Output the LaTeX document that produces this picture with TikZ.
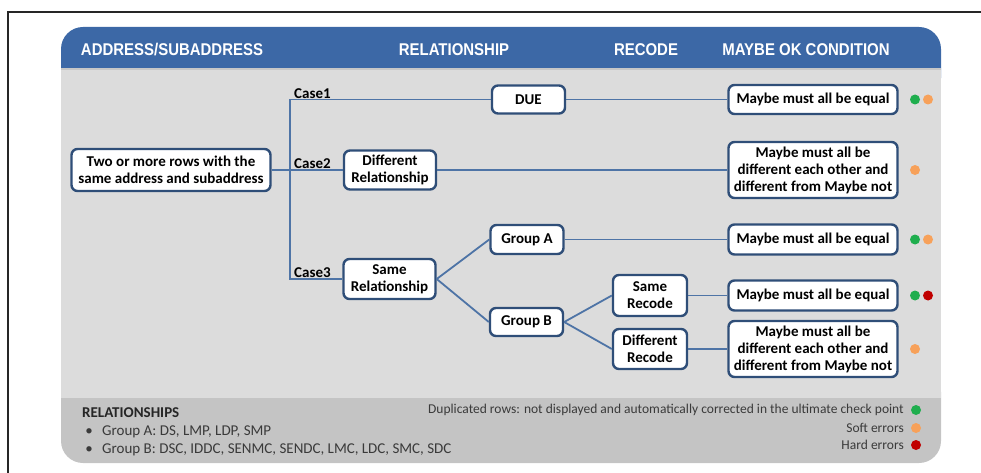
\documentclass[tikz,border=0pt]{standalone}
\usepackage{fontspec}
\setmainfont{Carlito}
\newfontfamily\hdrfont[FakeStretch=0.88]{Liberation Sans}
\definecolor{hdrblue}{HTML}{3C68A6}
\definecolor{bodygray}{HTML}{DCDCDC}
\definecolor{footgray}{HTML}{C4C4C4}
\definecolor{boxblue}{HTML}{2F4E78}
\definecolor{connblue}{HTML}{4E74A6}
\definecolor{dotgreen}{HTML}{1FAE4E}
\definecolor{dotorange}{HTML}{F7A15A}
\definecolor{dotred}{HTML}{C00000}
\definecolor{foottext}{HTML}{3A3A3A}
\tikzset{
  box/.style={draw=boxblue, line width=2.4pt, fill=white, rounded corners=6pt,
    font=\fontsize{15}{17}\selectfont\bfseries, align=center, inner sep=0pt},
  conn/.style={draw=connblue, line width=1.8pt},
  hdr/.style={font=\hdrfont\fontsize{17}{20}\selectfont\bfseries, text=white, inner sep=0pt},
  caselbl/.style={font=\fontsize{15}{17}\selectfont\bfseries, inner sep=1pt, anchor=south west},
  foot/.style={font=\fontsize{15}{18}\selectfont, text=foottext, inner sep=0pt},
  legend/.style={font=\fontsize{13.5}{17}\selectfont, text=foottext, inner sep=0pt, anchor=east},
  dot/.style={radius=5}
}
\begin{document}
\begin{tikzpicture}[x=1pt,y=-1pt]
\useasboundingbox (0,0) rectangle (981,473);
% frame
\draw[line width=1.3pt, black!85] (981,12) -- (8,12) -- (8,473);
% panel
\fill[hdrblue, rounded corners=22pt] (61,27) rectangle (941,100);
\fill[footgray, rounded corners=22pt] (61,370) rectangle (941,463);
\fill[bodygray] (61,68) rectangle (941,398);
\fill[black!22] (61,68) rectangle (941,70.5);
% header texts
\node[hdr] (h1) at (172,50) {ADDRESS/SUBADDRESS};
\node[hdr] (h2) at (454,50) {RELATIONSHIP};
\node[hdr] (h3) at (646,50) {RECODE};
\node[hdr] (h4) at (806,50) {MAYBE OK CONDITION};
% nodes
\node[box, minimum width=199, minimum height=42] (main) at (171,170) {Two or more rows with the\\same address and subaddress};
\node[box, minimum width=73, minimum height=28] (due) at (528.5,99.5) {DUE};
\node[box, minimum width=92, minimum height=39] (diffrel) at (390,170) {Different\\Relationship};
\node[box, minimum width=92, minimum height=40] (samerel) at (389.5,279) {Same\\Relationship};
\node[box, minimum width=73, minimum height=29] (ga) at (527,239.5) {Group A};
\node[box, minimum width=73, minimum height=28] (gb) at (526.5,322) {Group B};
\node[box, minimum width=74, minimum height=41] (srec) at (650,295.5) {Same\\Recode};
\node[box, minimum width=74, minimum height=40] (drec) at (650,349) {Different\\Recode};
\node[box, minimum width=169, minimum height=29] (m1) at (813,99.5) {Maybe must all be equal};
\node[box, minimum width=169, minimum height=56] (m2) at (813,170) {Maybe must all be\\different each other and\\different from Maybe not};
\node[box, minimum width=169, minimum height=30] (m3) at (813,239.5) {Maybe must all be equal};
\node[box, minimum width=169, minimum height=30] (m4) at (813,295.5) {Maybe must all be equal};
\node[box, minimum width=169, minimum height=56] (m5) at (813,349) {Maybe must all be\\different each other and\\different from Maybe not};
% trunk
\coordinate (trunk) at (290,170);
\draw[conn] (main.east) -- (diffrel.west);
\draw[conn] (due.west) -| (trunk);
\draw[conn] (samerel.west) -| (trunk);
\draw[conn] (samerel.east) -- (ga.west);
\draw[conn] (samerel.east) -- (gb.west);
\draw[conn] (gb.east) -- (srec.west);
\draw[conn] (gb.east) -- (drec.west);
\draw[conn] (due.east) -- (m1.west);
\draw[conn] (diffrel.east) -- (m2.west);
\draw[conn] (ga.east) -- (m3.west);
\draw[conn] (srec.east) -- (m4.west);
\draw[conn] (drec.east) -- (m5.west);
% case labels
\node[caselbl] (c1) at (293,99.5) {Case1};
\node[caselbl] (c2) at (293,170) {Case2};
\node[caselbl] (c3) at (293,279) {Case3};
% status dots
\fill[dotgreen] (915,99.5) circle[dot];
\fill[dotorange] (928,99.5) circle[dot];
\fill[dotorange] (915,170) circle[dot];
\fill[dotgreen] (915,239.5) circle[dot];
\fill[dotorange] (928,239.5) circle[dot];
\fill[dotgreen] (915,295.5) circle[dot];
\fill[dotred] (928,295.5) circle[dot];
\fill[dotorange] (915,349) circle[dot];
% footer
\node[foot, anchor=west, font=\fontsize{15}{18}\selectfont\bfseries, text=black!85] (relhead) at (82,413) {RELATIONSHIPS};
\node[foot] (b1) at (89,432) {\textbullet};
\node[foot] (b2) at (89,450) {\textbullet};
\node[foot, anchor=west] (gat) at (102,432) {Group A: DS, LMP, LDP, SMP};
\node[foot, anchor=west] (gbt) at (102,450) {Group B: DSC, IDDC, SENMC, SENDC, LMC, LDC, SMC, SDC};
\node[legend] (l1) at (904,410) {Duplicated rows: not displayed and automatically corrected in the ultimate check point};
\node[legend] (l2) at (904,428) {Soft errors};
\node[legend] (l3) at (904,445) {Hard errors};
\fill[dotgreen] (916,410) circle[dot];
\fill[dotorange] (916,428) circle[dot];
\fill[dotred] (916,445) circle[dot];
\end{tikzpicture}
\end{document}
